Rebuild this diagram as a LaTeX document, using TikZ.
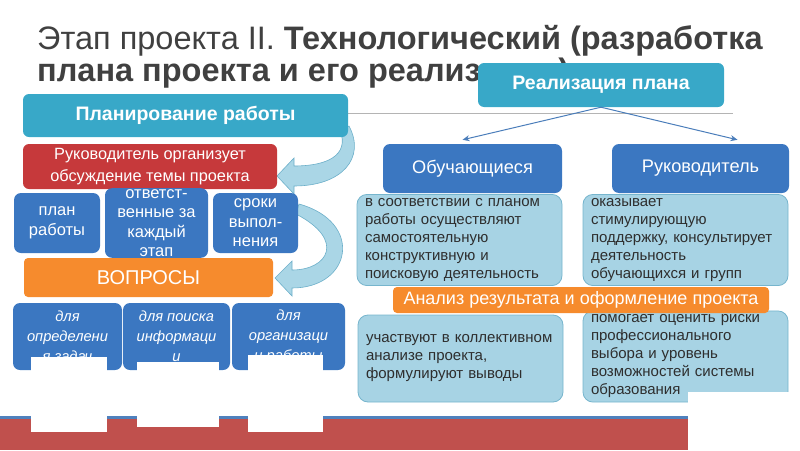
\documentclass[tikz,border=0pt]{standalone}
\usepackage{fontspec}
\setmainfont{Liberation Sans}
\usetikzlibrary{arrows.meta}
\definecolor{titlegray}{HTML}{404040}
\definecolor{textgray}{HTML}{2E2E2E}
\definecolor{rulegray}{HTML}{B4B4B4}
\definecolor{tealfill}{HTML}{38A8C8}
\definecolor{redfill}{HTML}{C6393B}
\definecolor{bluefill}{HTML}{3B77C1}
\definecolor{orangefill}{HTML}{F68B2D}
\definecolor{lightfill}{HTML}{A7D3E4}
\definecolor{lightedge}{HTML}{76B5CD}
\definecolor{ribbonfill}{HTML}{AAD6E6}
\definecolor{ribbonedge}{HTML}{6CAFC9}
\definecolor{linkblue}{HTML}{4A7DBA}
\definecolor{barblue}{HTML}{4F81BD}
\definecolor{barred}{HTML}{C0504D}
\begin{document}
\begin{tikzpicture}[x=1pt, y=-1pt,
  tealbox/.style={fill=tealfill, rounded corners=6pt, text=white,
    font=\fontsize{19.5}{22}\selectfont\bfseries},
  redbox/.style={fill=redfill, rounded corners=6pt, text=white, align=center,
    font=\fontsize{16.3}{22}\selectfont},
  bluebox/.style={fill=bluefill, rounded corners=7pt, text=white, align=center,
    inner sep=1pt, font=\fontsize{16.5}{19.5}\selectfont},
  orangebox/.style={fill=orangefill, rounded corners=4pt, text=white},
  lightbox/.style={fill=lightfill, draw=lightedge, line width=0.8pt,
    rounded corners=10pt, text=textgray, text width=189pt, align=left,
    inner xsep=8pt, inner ysep=4pt, font=\fontsize{15}{18}\selectfont},
  ribbon/.style={fill=ribbonfill, draw=ribbonedge, line width=0.6pt},
  link/.style={draw=linkblue, line width=1pt, -{Stealth[length=7pt, width=6pt]}}]
  \useasboundingbox (0,0) rectangle (800,450);

  % title
  \node[anchor=base west, inner sep=0pt, text=titlegray,
    font=\fontsize{32.5}{36}\selectfont] (title1) at (37,49)
    {Этап проекта II. \textbf{Технологический (разработка}};
  \node[anchor=base west, inner sep=0pt, text=titlegray,
    font=\fontsize{32.5}{36}\selectfont] (title2) at (37,81)
    {\textbf{плана проекта и его реализации)}};
  \draw[rulegray, line width=0.8pt] (37,113) -- (733,113);

  % curved ribbons behind the left column
  \draw[ribbon] (277,176) -- (294,158) -- (294,166)
    .. controls (326,166) and (350,156) .. (340,130) -- (349,126)
    .. controls (366,158) and (342,186) .. (294,186) -- (294,194) -- cycle;
  \draw[ribbon] (275,278) -- (292,261) -- (292,270)
    .. controls (328,270) and (346,240) .. (296,214) -- (299,204)
    .. controls (364,222) and (352,288) .. (292,288) -- (292,296) -- cycle;

  % left column
  \node[tealbox, minimum width=325pt, minimum height=43pt] (plan) at (185.5,115.5)
    {Планирование работы};
  \node[redbox, minimum width=254pt, minimum height=45pt] (lead) at (150,166.5)
    {Руководитель организует\\обсуждение темы проекта};
  \node[bluebox, minimum width=86pt, minimum height=60pt] (pw) at (57,223)
    {план\\работы};
  \node[bluebox, minimum width=103pt, minimum height=60pt] (resp) at (156.5,223)
    {ответст-\\венные за\\каждый\\этап};
  \node[bluebox, minimum width=85pt, minimum height=60pt] (term) at (255.5,223)
    {сроки\\выпол-\\нения};
  \node[orangebox, minimum width=249pt, minimum height=39pt,
    font=\fontsize{20}{24}\selectfont] (quest) at (148.5,277.5) {ВОПРОСЫ};
  \node[bluebox, minimum width=109pt, minimum height=67pt,
    font=\fontsize{14.7}{20}\selectfont\itshape] (q1) at (67.5,336.5)
    {для\\определени\\я задач};
  \node[bluebox, minimum width=107pt, minimum height=67pt,
    font=\fontsize{14.7}{20}\selectfont\itshape] (q2) at (176.5,336.5)
    {для поиска\\информаци\\и};
  \node[bluebox, minimum width=113pt, minimum height=67pt,
    font=\fontsize{14.7}{20}\selectfont\itshape] (q3) at (288.5,336.5)
    {для\\организаци\\и работы};

  % right column
  \node[tealbox, minimum width=246pt, minimum height=44pt] (real) at (601,85)
    {Реализация плана};
  \node[bluebox, minimum width=179pt, minimum height=49pt,
    font=\fontsize{18.2}{20}\selectfont] (obuch) at (472.5,168.5) {Обучающиеся};
  \node[bluebox, minimum width=177pt, minimum height=49pt,
    font=\fontsize{18.2}{20}\selectfont] (ruk) at (700.5,168.5) {Руководитель};
  \draw[link] (real.south) -- ([shift={(-10pt,4pt)}]obuch.north);
  \draw[link] (real.south) -- ([shift={(37pt,4pt)}]ruk.north);
  \node[lightbox, minimum height=86pt] (act1) at (459.5,240)
    {в соответствии с планом\\работы осуществляют\\самостоятельную\\конструктивную и\\поисковую деятельность};
  \node[lightbox, minimum height=86pt] (act2) at (685.5,240)
    {оказывает\\стимулирующую\\поддержку, консультирует\\деятельность\\обучающихся и групп};
  \node[lightbox, minimum height=87pt] (res1) at (460.5,358.5)
    {участвуют в коллективном\\анализе проекта,\\формулируют выводы};
  \node[lightbox, minimum height=87pt] (res2) at (685.5,356.5)
    {помогает оценить риски\\профессионального\\выбора и уровень\\возможностей системы\\образования};
  \node[orangebox, minimum width=376pt, minimum height=26pt, inner sep=1pt,
    font=\fontsize{18}{20}\selectfont] (anal) at (581,300)
    {Анализ результата и оформление проекта};

  % bottom bar and white patches
  \fill[barblue] (0,416) rectangle (688,419);
  \fill[barred] (0,419) rectangle (688,450);
  \fill[white] (31,357) rectangle (107,432);
  \fill[white] (137,362) rectangle (219,427);
  \fill[white] (248,355) rectangle (323,432);
  \fill[white] (688,392) rectangle (800,450);
\end{tikzpicture}
\end{document}
